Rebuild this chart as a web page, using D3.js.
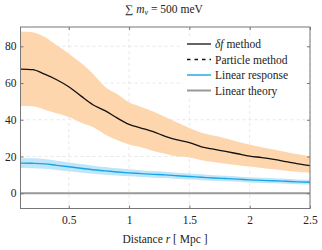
<!DOCTYPE html>
<html>
  <head>
    <meta charset="utf-8" />
    <title>Sum m_nu = 500 meV</title>
    <script src="https://d3js.org/d3.v7.min.js" charset="utf-8"></script>
    <style>
      html,
      body {
        margin: 0;
        padding: 0;
        background: white;
      }
      svg text {
        font-family: "Liberation Serif", "DejaVu Serif", serif;
        fill: #222;
      }
    </style>
  </head>
  <body>
    <svg id="chart"></svg>
    <script>
      // Data
      const distance = [0.1, 0.2, 0.3, 0.4, 0.5, 0.6, 0.7, 0.8, 0.9, 1.0, 1.1, 1.2, 1.3,
        1.4, 1.5, 1.6, 1.7, 1.8, 1.9, 2.0, 2.1, 2.2, 2.3, 2.4, 2.5];
      const deltaF = [67.6, 67.3, 64.8, 61.8, 58, 53, 48.2, 45, 41, 37.5, 35.5, 33.5, 31,
        29, 27.6, 25.3, 24, 22.8, 21.5, 20.2, 19.4, 18.4, 17.2, 16, 15];
      const deltaFUpper = [88, 87.6, 85, 80.5, 76, 71, 65, 58, 54, 49.5, 47, 44.5, 41.5,
        38.5, 35.5, 33, 31.5, 30, 28, 26.5, 25, 23.8, 22.5, 21.2, 20];
      const deltaFLower = [47.5, 47.3, 45.5, 43.5, 41.5, 38.5, 36, 32, 29, 26.5, 25, 23,
        21.5, 20, 19.5, 18, 17, 16, 15.2, 14.5, 13.8, 13, 12.3, 11.7, 11.2];
      const linResp = [16.4, 16.3, 16, 15.2, 14.4, 13.6, 12.8, 12.2, 11.6, 11.1, 10.7,
        10.3, 10, 9.5, 9.1, 8.7, 8.3, 8, 7.7, 7.3, 7, 6.8, 6.5, 6.2, 6];
      const linRespErr = [2.7, 2.7, 2.6, 2.5, 2.4, 2.3, 2.2, 2.1, 2, 1.9, 1.85, 1.8, 1.75,
        1.7, 1.65, 1.6, 1.55, 1.5, 1.45, 1.4, 1.4, 1.35, 1.35, 1.3, 1.3];
      const linTheory = distance.map(() => 0);
      const xTicks = [0.5, 1, 1.5, 2, 2.5];
      const yTicks = [0, 20, 40, 60, 80];
      const legendLabels = ["δf method", "Particle method", "Linear response", "Linear theory"];

      const width = 322;
      const height = 250;
      const lmargin = 20.5;
      const rmargin = 12;
      const tmargin = 27;
      const bmargin = 41.5;
      const graphWidth = width - lmargin - rmargin;
      const graphHeight = height - tmargin - bmargin;
      const fs = 11.5;

      const svg = d3.select("#chart").attr("width", width).attr("height", height);

      const xScale = d3.scaleLinear().domain([0.1, 2.5]).range([0, graphWidth]);
      const yScale = d3.scaleLinear().domain([-8.3, 90.5]).range([graphHeight, 0]);

      const plotArea = svg.append("g").attr("transform", `translate(${lmargin},${tmargin})`);

      // grid
      plotArea
        .append("g")
        .selectAll("line.gx")
        .data(xTicks)
        .join("line")
        .attr("x1", (d) => xScale(d))
        .attr("x2", (d) => xScale(d))
        .attr("y1", 0)
        .attr("y2", graphHeight)
        .attr("stroke", "#e2e2e2")
        .attr("stroke-width", 0.8)
        .attr("stroke-dasharray", "3,3");
      plotArea
        .append("g")
        .selectAll("line.gy")
        .data(yTicks)
        .join("line")
        .attr("x1", 0)
        .attr("x2", graphWidth)
        .attr("y1", (d) => yScale(d))
        .attr("y2", (d) => yScale(d))
        .attr("stroke", "#e2e2e2")
        .attr("stroke-width", 0.8)
        .attr("stroke-dasharray", "3,3");

      // bands
      const area = (lo, hi) =>
        d3
          .area()
          .x((d, i) => xScale(distance[i]))
          .y0((d, i) => yScale(lo[i]))
          .y1((d, i) => yScale(hi[i]))
          .curve(d3.curveMonotoneX);
      plotArea
        .append("path")
        .datum(distance)
        .attr("d", area(deltaFLower, deltaFUpper))
        .attr("fill", "#fdd6ae");
      const lrLo = linResp.map((v, i) => v - linRespErr[i]);
      const lrHi = linResp.map((v, i) => v + linRespErr[i]);
      plotArea
        .append("path")
        .datum(distance)
        .attr("d", area(lrLo, lrHi))
        .attr("fill", "#bfe6f8");

      const line = d3
        .line()
        .x((d, i) => xScale(distance[i]))
        .y((d) => yScale(d))
        .curve(d3.curveMonotoneX);

      plotArea
        .append("path")
        .datum(linTheory)
        .attr("d", line)
        .attr("fill", "none")
        .attr("stroke", "#999")
        .attr("stroke-width", 2);
      plotArea
        .append("path")
        .datum(linResp)
        .attr("d", line)
        .attr("fill", "none")
        .attr("stroke", "#19a4e6")
        .attr("stroke-width", 1.4);
      plotArea
        .append("path")
        .datum(deltaF)
        .attr("d", line)
        .attr("fill", "none")
        .attr("stroke", "#111")
        .attr("stroke-width", 1.3);

      // axes (ticks inside, on all four sides)
      const tickLen = 3;
      const axisColor = "#777";
      const xAxisB = d3.axisBottom(xScale).tickValues(xTicks).tickSize(-tickLen).tickPadding(7)
        .tickFormat(d3.format("~g"));
      const gxb = plotArea.append("g").attr("transform", `translate(0,${graphHeight})`).call(xAxisB);
      const xAxisT = d3.axisTop(xScale).tickValues(xTicks).tickSize(-tickLen).tickFormat("");
      const gxt = plotArea.append("g").call(xAxisT);
      const yAxisL = d3.axisLeft(yScale).tickValues(yTicks).tickSize(-tickLen).tickPadding(4);
      const gyl = plotArea.append("g").call(yAxisL);
      const yAxisR = d3.axisRight(yScale).tickValues(yTicks).tickSize(-tickLen).tickFormat("");
      const gyr = plotArea.append("g").attr("transform", `translate(${graphWidth},0)`).call(yAxisR);
      [gxb, gxt, gyl, gyr].forEach((g) => {
        g.select(".domain").remove();
        g.selectAll("line").attr("stroke", axisColor);
        g.selectAll("text").attr("font-size", fs).attr("fill", "#222");
      });
      plotArea
        .append("rect")
        .attr("width", graphWidth)
        .attr("height", graphHeight)
        .attr("fill", "none")
        .attr("stroke", axisColor)
        .attr("stroke-width", 1);

      // legend
      const legend = plotArea.append("g").attr("transform", `translate(${graphWidth - 127},9)`);
      legend.append("rect").attr("width", 122).attr("height", 62).attr("fill", "white");
      const legStyles = [
        { c: "#111", w: 1.3, dash: null },
        { c: "#111", w: 1.3, dash: "3.5,4" },
        { c: "#19a4e6", w: 1.4, dash: null },
        { c: "#999", w: 2, dash: null },
      ];
      legendLabels.forEach((lab, i) => {
        const y = 8 + i * 15.5;
        legend
          .append("line")
          .attr("x1", 4)
          .attr("x2", 28)
          .attr("y1", y)
          .attr("y2", y)
          .attr("stroke", legStyles[i].c)
          .attr("stroke-width", legStyles[i].w)
          .attr("stroke-dasharray", legStyles[i].dash);
        const t = legend.append("text").attr("x", 32).attr("y", y + 4).attr("font-size", fs);
        if (i === 0) {
          t.append("tspan").attr("font-style", "italic").text("δf");
          t.append("tspan").text(" method");
        } else {
          t.text(lab);
        }
      });

      // title
      const title = svg.append("text").attr("x", 164).attr("y", 13).attr("text-anchor", "middle")
        .attr("font-size", fs);
      title.append("tspan").text("∑ ");
      title.append("tspan").attr("font-style", "italic").text("m");
      title.append("tspan").attr("font-style", "italic").attr("font-size", 8).attr("dy", 2).text("ν");
      title.append("tspan").attr("dy", -2).text(" = 500 meV");

      // x label
      const xl = svg.append("text").attr("x", 165).attr("y", 243).attr("text-anchor", "middle")
        .attr("font-size", fs);
      xl.append("tspan").text("Distance ");
      xl.append("tspan").attr("font-style", "italic").text("r");
      xl.append("tspan").text(" [ Mpc ]");
    </script>
  </body>
</html>
